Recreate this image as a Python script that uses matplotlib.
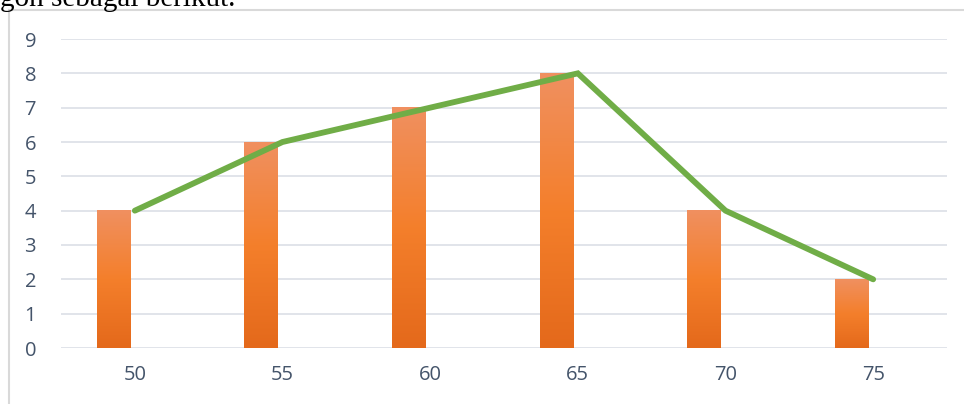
import numpy as np
import matplotlib.pyplot as plt
from matplotlib.colors import LinearSegmentedColormap
from matplotlib.lines import Line2D

# 데이터
categories = ["50", "55", "60", "65", "70", "75"]
bar_values = [4, 6, 7, 8, 4, 2]
line_values = [4, 6, 7, 8, 4, 2]

plt.rcParams['font.family'] = ['Open Sans', 'DejaVu Sans']

fig = plt.figure(figsize=(9.64, 4.04), dpi=100)
ax = fig.add_axes([61/964, 1 - 348/404, (947 - 61)/964, (348 - 39)/404])

x = np.arange(len(categories))
bar_w = 0.23
bar_off = -0.143

# 주황색 그라데이션 막대
cmap = LinearSegmentedColormap.from_list("org", ["#E4691B", "#F47F2B", "#F09060"])
grad = np.linspace(0, 1, 256).reshape(-1, 1)
bars = ax.bar(x + bar_off, bar_values, width=bar_w, color="none", zorder=2)
for b in bars:
    x0, y0 = b.get_x(), b.get_y()
    ax.imshow(grad, cmap=cmap, origin="lower", aspect="auto",
              extent=[x0, x0 + b.get_width(), y0, y0 + b.get_height()], zorder=2)

# 선 그래프
ax.plot(x, line_values, color="#70AD47", linewidth=4.2, solid_capstyle="round",
        solid_joinstyle="miter", zorder=3)

ax.set_xlim(-0.5, len(categories) - 0.5)
ax.set_ylim(0, 9)
ax.set_yticks(range(0, 10))
ax.set_xticks(x)
ax.set_xticklabels(categories)
ax.grid(axis="y", color="#E1E4EA", linewidth=1.4, zorder=0)
ax.set_axisbelow(True)
for s in ax.spines.values():
    s.set_visible(False)
ax.tick_params(length=0, labelsize=14.5, labelcolor="#44546A")
ax.tick_params(axis="y", pad=18)
ax.tick_params(axis="x", pad=12)

# 차트 테두리
fig.add_artist(Line2D([9/964, 9/964], [0, 1 - 10/404], color="#D9D9D9", linewidth=1.5))
fig.add_artist(Line2D([9/964, 1], [1 - 10/404, 1 - 10/404], color="#D9D9D9", linewidth=1.5))

# 위에 잘린 문서 텍스트
fig.text(0, 1 - 6/404, "gon sebagai berikut.", family="Liberation Serif",
         fontsize=21, va="baseline", ha="left")

fig.savefig("out.png", dpi=100)
